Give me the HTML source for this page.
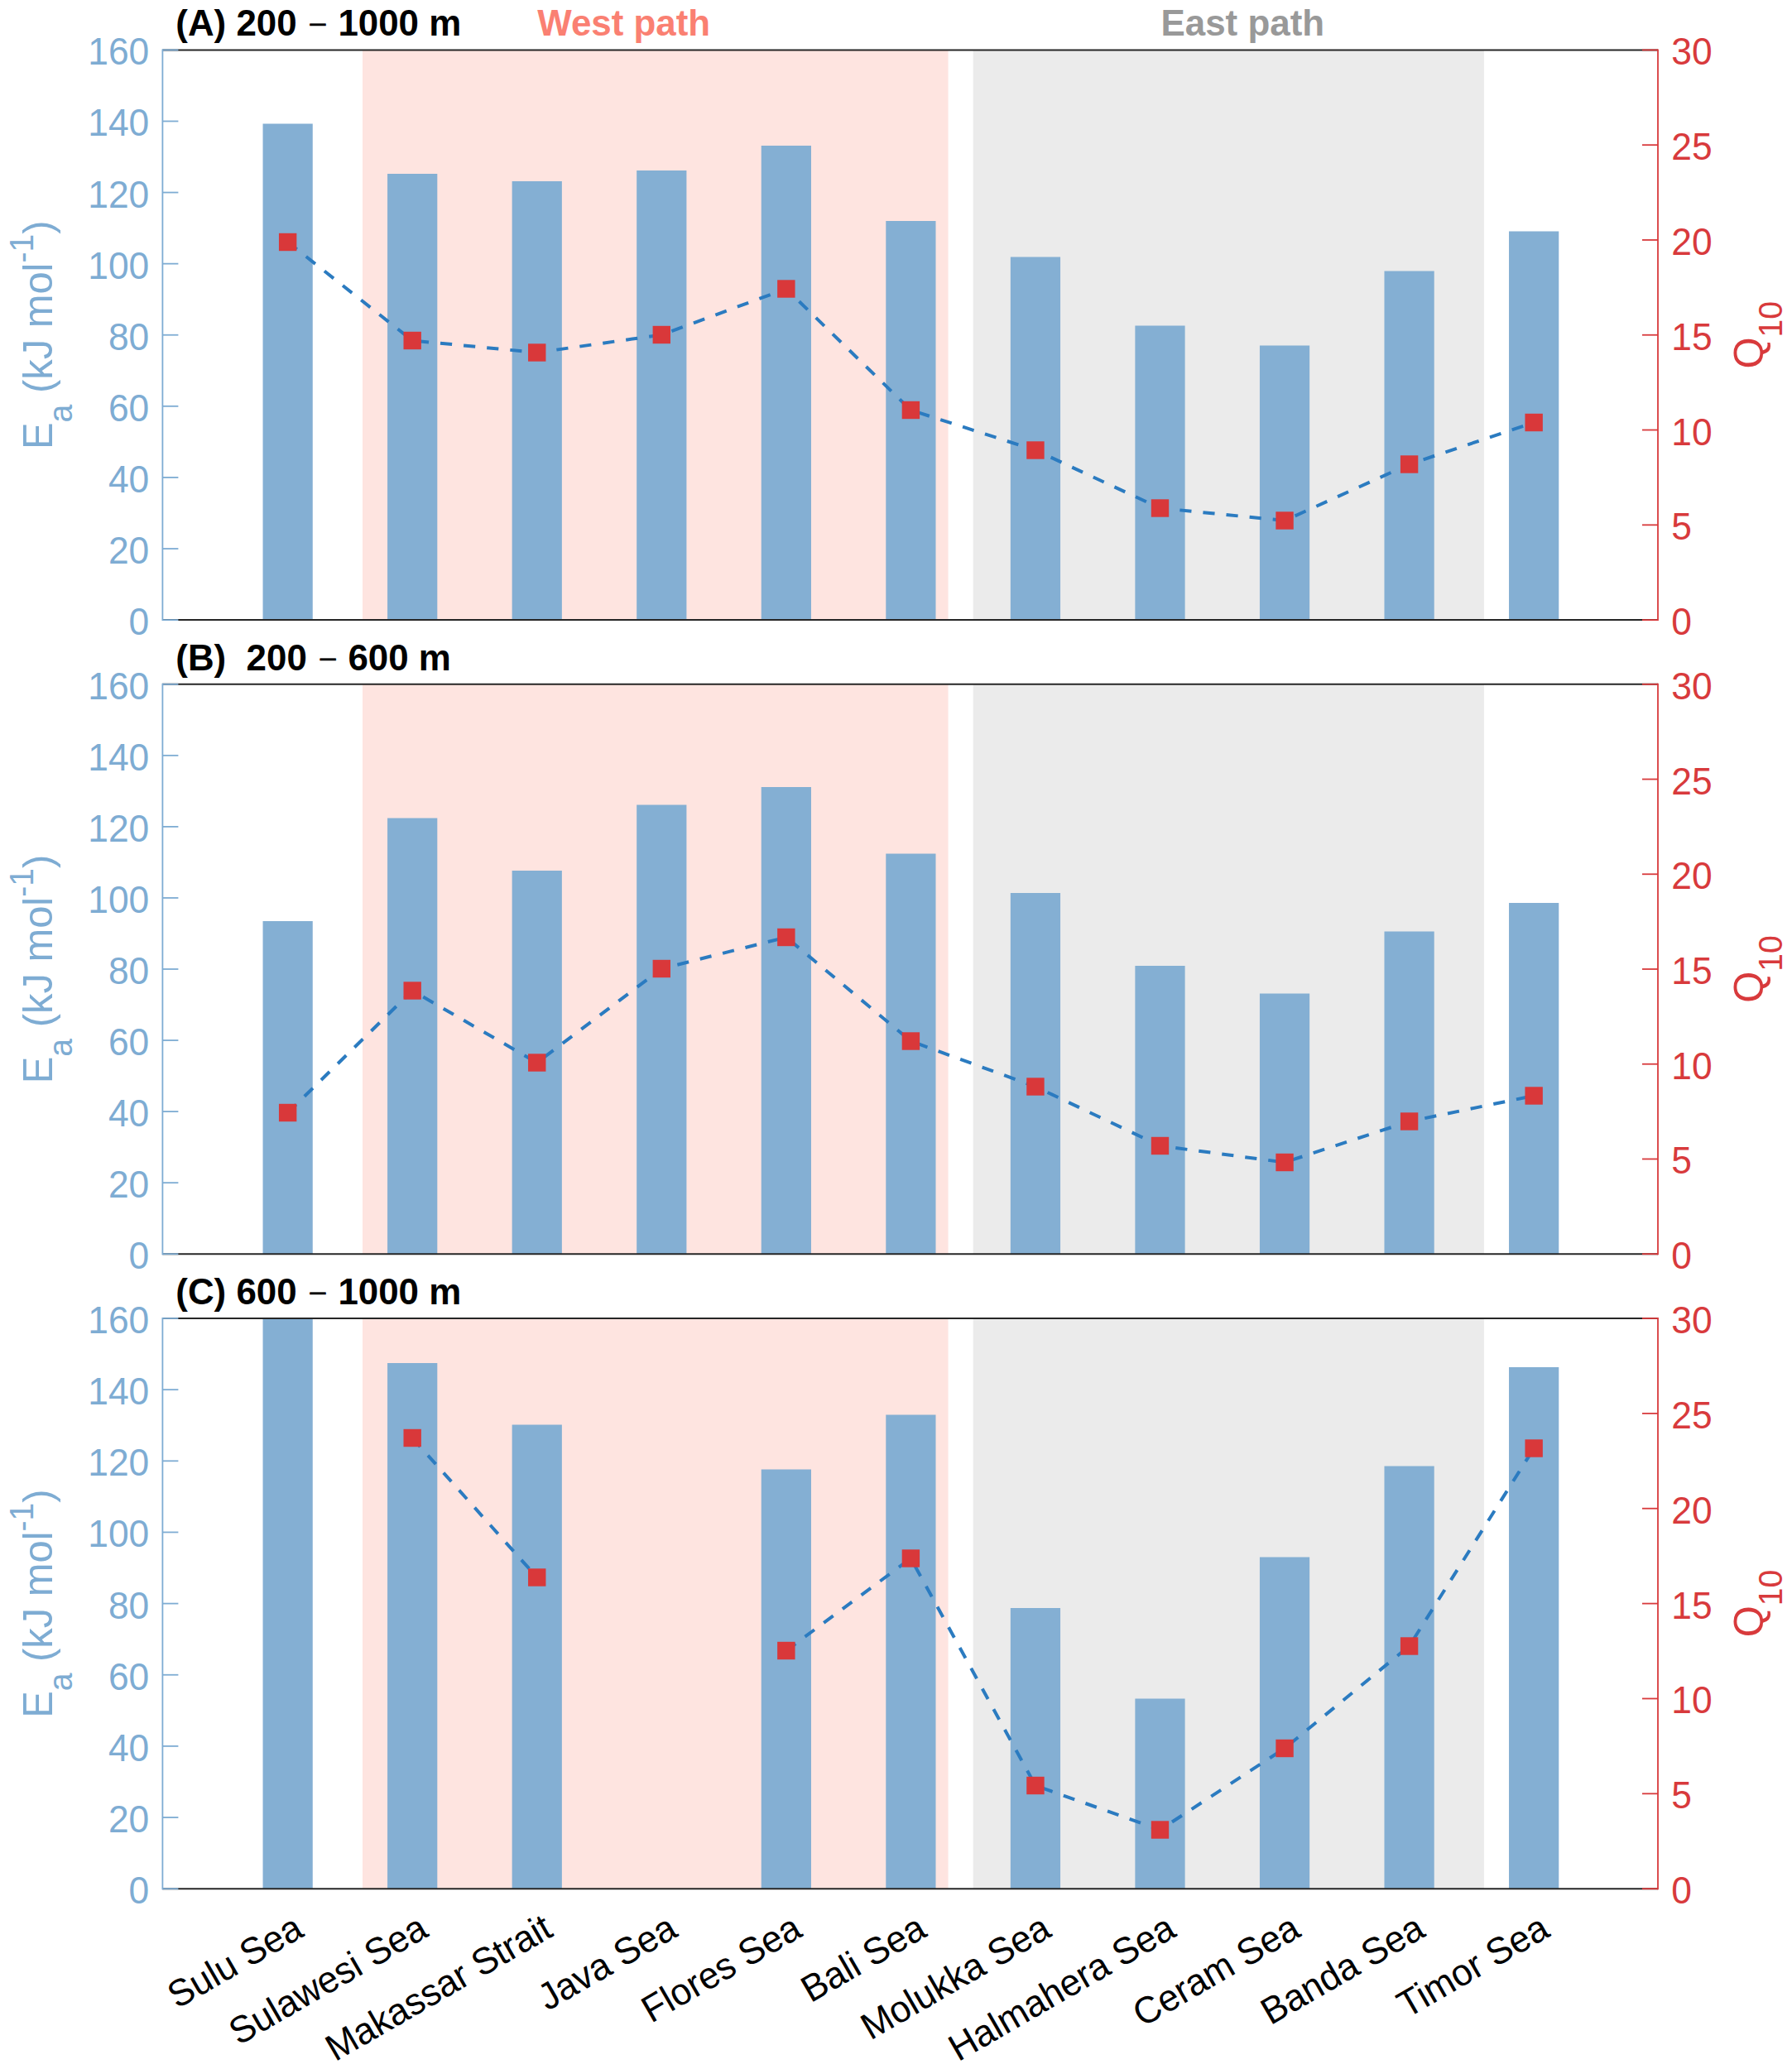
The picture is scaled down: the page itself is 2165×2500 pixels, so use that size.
<!DOCTYPE html>
<html lang="en"><head><meta charset="utf-8"><title>Ea and Q10 along the west and east paths</title>
<style>html,body{margin:0;padding:0;background:#fff}body{width:2165px;height:2500px;overflow:hidden}svg{display:block}text{font-family:"Liberation Sans",Arial,Helvetica,sans-serif}</style></head><body>
<svg width="2165" height="2500" viewBox="0 0 2165 2500">
<rect width="2165" height="2500" fill="#fff"/>
<g>
<rect x="437.98" y="60.4" width="707.58" height="688.7" fill="#fee4e0"/>
<rect x="1175.67" y="60.4" width="617.25" height="688.7" fill="#ebebeb"/>
<rect x="317.54" y="149.5" width="60.22" height="599.6" fill="#84afd3"/>
<rect x="468.09" y="210" width="60.22" height="539.1" fill="#84afd3"/>
<rect x="618.64" y="219" width="60.22" height="530.1" fill="#84afd3"/>
<rect x="769.19" y="206" width="60.22" height="543.1" fill="#84afd3"/>
<rect x="919.74" y="176" width="60.22" height="573.1" fill="#84afd3"/>
<rect x="1070.29" y="267" width="60.22" height="482.1" fill="#84afd3"/>
<rect x="1220.84" y="310.5" width="60.22" height="438.6" fill="#84afd3"/>
<rect x="1371.39" y="393.5" width="60.22" height="355.6" fill="#84afd3"/>
<rect x="1521.94" y="417.5" width="60.22" height="331.6" fill="#84afd3"/>
<rect x="1672.49" y="327.5" width="60.22" height="421.6" fill="#84afd3"/>
<rect x="1823.04" y="279.5" width="60.22" height="469.6" fill="#84afd3"/>
<polyline points="347.65,292.5 498.2,411.5 648.75,426 799.3,404.5 949.85,349 1100.4,495.5 1250.95,544 1401.5,614 1552.05,629 1702.6,561 1853.15,510.5" fill="none" stroke="#2b7bc0" stroke-width="4" stroke-dasharray="14.2 14.03"/>
<rect x="336.95" y="281.8" width="21.4" height="21.4" fill="#d9383a"/>
<rect x="487.5" y="400.8" width="21.4" height="21.4" fill="#d9383a"/>
<rect x="638.05" y="415.3" width="21.4" height="21.4" fill="#d9383a"/>
<rect x="788.6" y="393.8" width="21.4" height="21.4" fill="#d9383a"/>
<rect x="939.15" y="338.3" width="21.4" height="21.4" fill="#d9383a"/>
<rect x="1089.7" y="484.8" width="21.4" height="21.4" fill="#d9383a"/>
<rect x="1240.25" y="533.3" width="21.4" height="21.4" fill="#d9383a"/>
<rect x="1390.8" y="603.3" width="21.4" height="21.4" fill="#d9383a"/>
<rect x="1541.35" y="618.3" width="21.4" height="21.4" fill="#d9383a"/>
<rect x="1691.9" y="550.3" width="21.4" height="21.4" fill="#d9383a"/>
<rect x="1842.45" y="499.8" width="21.4" height="21.4" fill="#d9383a"/>
<line x1="196.4" y1="60.4" x2="2003" y2="60.4" stroke="#262626" stroke-width="2"/>
<line x1="196.4" y1="749.1" x2="2003" y2="749.1" stroke="#262626" stroke-width="2"/>
<line x1="196.4" y1="59.4" x2="196.4" y2="750.1" stroke="#7eacd3" stroke-width="1.8"/>
<line x1="196.4" y1="749.1" x2="215.4" y2="749.1" stroke="#7eacd3" stroke-width="1.8"/>
<text transform="translate(180.3 767.1) scale(1 1.03)" font-size="44.4" fill="#7eacd3" text-anchor="end">0</text>
<line x1="196.4" y1="663.01" x2="215.4" y2="663.01" stroke="#7eacd3" stroke-width="1.8"/>
<text transform="translate(180.3 681.01) scale(1 1.03)" font-size="44.4" fill="#7eacd3" text-anchor="end">20</text>
<line x1="196.4" y1="576.92" x2="215.4" y2="576.92" stroke="#7eacd3" stroke-width="1.8"/>
<text transform="translate(180.3 594.92) scale(1 1.03)" font-size="44.4" fill="#7eacd3" text-anchor="end">40</text>
<line x1="196.4" y1="490.84" x2="215.4" y2="490.84" stroke="#7eacd3" stroke-width="1.8"/>
<text transform="translate(180.3 508.84) scale(1 1.03)" font-size="44.4" fill="#7eacd3" text-anchor="end">60</text>
<line x1="196.4" y1="404.75" x2="215.4" y2="404.75" stroke="#7eacd3" stroke-width="1.8"/>
<text transform="translate(180.3 422.75) scale(1 1.03)" font-size="44.4" fill="#7eacd3" text-anchor="end">80</text>
<line x1="196.4" y1="318.66" x2="215.4" y2="318.66" stroke="#7eacd3" stroke-width="1.8"/>
<text transform="translate(180.3 336.66) scale(1 1.03)" font-size="44.4" fill="#7eacd3" text-anchor="end">100</text>
<line x1="196.4" y1="232.57" x2="215.4" y2="232.57" stroke="#7eacd3" stroke-width="1.8"/>
<text transform="translate(180.3 250.57) scale(1 1.03)" font-size="44.4" fill="#7eacd3" text-anchor="end">120</text>
<line x1="196.4" y1="146.49" x2="215.4" y2="146.49" stroke="#7eacd3" stroke-width="1.8"/>
<text transform="translate(180.3 164.49) scale(1 1.03)" font-size="44.4" fill="#7eacd3" text-anchor="end">140</text>
<line x1="196.4" y1="60.4" x2="215.4" y2="60.4" stroke="#7eacd3" stroke-width="1.8"/>
<text transform="translate(180.3 78.4) scale(1 1.03)" font-size="44.4" fill="#7eacd3" text-anchor="end">160</text>
<line x1="2003" y1="59.4" x2="2003" y2="750.1" stroke="#d83a3c" stroke-width="1.8"/>
<line x1="1984" y1="749.1" x2="2003" y2="749.1" stroke="#d83a3c" stroke-width="1.8"/>
<text transform="translate(2019.3 767.1) scale(1 1.03)" font-size="44.4" fill="#d83a3c">0</text>
<line x1="1984" y1="634.32" x2="2003" y2="634.32" stroke="#d83a3c" stroke-width="1.8"/>
<text transform="translate(2019.3 652.32) scale(1 1.03)" font-size="44.4" fill="#d83a3c">5</text>
<line x1="1984" y1="519.53" x2="2003" y2="519.53" stroke="#d83a3c" stroke-width="1.8"/>
<text transform="translate(2019.3 537.53) scale(1 1.03)" font-size="44.4" fill="#d83a3c">10</text>
<line x1="1984" y1="404.75" x2="2003" y2="404.75" stroke="#d83a3c" stroke-width="1.8"/>
<text transform="translate(2019.3 422.75) scale(1 1.03)" font-size="44.4" fill="#d83a3c">15</text>
<line x1="1984" y1="289.97" x2="2003" y2="289.97" stroke="#d83a3c" stroke-width="1.8"/>
<text transform="translate(2019.3 307.97) scale(1 1.03)" font-size="44.4" fill="#d83a3c">20</text>
<line x1="1984" y1="175.18" x2="2003" y2="175.18" stroke="#d83a3c" stroke-width="1.8"/>
<text transform="translate(2019.3 193.18) scale(1 1.03)" font-size="44.4" fill="#d83a3c">25</text>
<line x1="1984" y1="60.4" x2="2003" y2="60.4" stroke="#d83a3c" stroke-width="1.8"/>
<text transform="translate(2019.3 78.4) scale(1 1.03)" font-size="44.4" fill="#d83a3c">30</text>
<text transform="translate(62.8 404.75) rotate(-90) scale(1 1.03)" font-size="48.9" fill="#7eacd3" text-anchor="middle">E<tspan font-size="39.1" dy="23.4">a</tspan><tspan dy="-23.4"> (kJ mol</tspan><tspan font-size="39.1" dy="-22.4">-1</tspan><tspan dy="22.4">)</tspan></text>
<text transform="translate(2130 404.75) rotate(-90) scale(1 1.03)" font-size="48.9" fill="#d83a3c" text-anchor="middle">Q<tspan font-size="39.1" dy="22.7">10</tspan></text>
<text transform="translate(212.3 43.1) scale(1 1.03)" font-size="43.9" fill="#000" font-weight="bold">(A) 200</text>
<text x="383.9" y="38.2" font-size="34" fill="#000" stroke="#000" stroke-width="0.7" text-anchor="middle">–</text>
<text transform="translate(408.4 43.1) scale(1 1.03)" font-size="43.9" fill="#000" font-weight="bold">1000 m</text>
</g>
<g>
<rect x="437.98" y="826.8" width="707.58" height="688.4" fill="#fee4e0"/>
<rect x="1175.67" y="826.8" width="617.25" height="688.4" fill="#ebebeb"/>
<rect x="317.54" y="1113" width="60.22" height="402.2" fill="#84afd3"/>
<rect x="468.09" y="988.5" width="60.22" height="526.7" fill="#84afd3"/>
<rect x="618.64" y="1052" width="60.22" height="463.2" fill="#84afd3"/>
<rect x="769.19" y="972.5" width="60.22" height="542.7" fill="#84afd3"/>
<rect x="919.74" y="951" width="60.22" height="564.2" fill="#84afd3"/>
<rect x="1070.29" y="1031.5" width="60.22" height="483.7" fill="#84afd3"/>
<rect x="1220.84" y="1079" width="60.22" height="436.2" fill="#84afd3"/>
<rect x="1371.39" y="1167" width="60.22" height="348.2" fill="#84afd3"/>
<rect x="1521.94" y="1200.5" width="60.22" height="314.7" fill="#84afd3"/>
<rect x="1672.49" y="1125.5" width="60.22" height="389.7" fill="#84afd3"/>
<rect x="1823.04" y="1091" width="60.22" height="424.2" fill="#84afd3"/>
<polyline points="347.65,1344.5 498.2,1197 648.75,1284 799.3,1170.5 949.85,1132.5 1100.4,1258 1250.95,1313 1401.5,1384.5 1552.05,1404.5 1702.6,1355 1853.15,1324" fill="none" stroke="#2b7bc0" stroke-width="4" stroke-dasharray="14.2 14.03"/>
<rect x="336.95" y="1333.8" width="21.4" height="21.4" fill="#d9383a"/>
<rect x="487.5" y="1186.3" width="21.4" height="21.4" fill="#d9383a"/>
<rect x="638.05" y="1273.3" width="21.4" height="21.4" fill="#d9383a"/>
<rect x="788.6" y="1159.8" width="21.4" height="21.4" fill="#d9383a"/>
<rect x="939.15" y="1121.8" width="21.4" height="21.4" fill="#d9383a"/>
<rect x="1089.7" y="1247.3" width="21.4" height="21.4" fill="#d9383a"/>
<rect x="1240.25" y="1302.3" width="21.4" height="21.4" fill="#d9383a"/>
<rect x="1390.8" y="1373.8" width="21.4" height="21.4" fill="#d9383a"/>
<rect x="1541.35" y="1393.8" width="21.4" height="21.4" fill="#d9383a"/>
<rect x="1691.9" y="1344.3" width="21.4" height="21.4" fill="#d9383a"/>
<rect x="1842.45" y="1313.3" width="21.4" height="21.4" fill="#d9383a"/>
<line x1="196.4" y1="826.8" x2="2003" y2="826.8" stroke="#262626" stroke-width="2"/>
<line x1="196.4" y1="1515.2" x2="2003" y2="1515.2" stroke="#262626" stroke-width="2"/>
<line x1="196.4" y1="825.8" x2="196.4" y2="1516.2" stroke="#7eacd3" stroke-width="1.8"/>
<line x1="196.4" y1="1515.2" x2="215.4" y2="1515.2" stroke="#7eacd3" stroke-width="1.8"/>
<text transform="translate(180.3 1533.2) scale(1 1.03)" font-size="44.4" fill="#7eacd3" text-anchor="end">0</text>
<line x1="196.4" y1="1429.15" x2="215.4" y2="1429.15" stroke="#7eacd3" stroke-width="1.8"/>
<text transform="translate(180.3 1447.15) scale(1 1.03)" font-size="44.4" fill="#7eacd3" text-anchor="end">20</text>
<line x1="196.4" y1="1343.1" x2="215.4" y2="1343.1" stroke="#7eacd3" stroke-width="1.8"/>
<text transform="translate(180.3 1361.1) scale(1 1.03)" font-size="44.4" fill="#7eacd3" text-anchor="end">40</text>
<line x1="196.4" y1="1257.05" x2="215.4" y2="1257.05" stroke="#7eacd3" stroke-width="1.8"/>
<text transform="translate(180.3 1275.05) scale(1 1.03)" font-size="44.4" fill="#7eacd3" text-anchor="end">60</text>
<line x1="196.4" y1="1171" x2="215.4" y2="1171" stroke="#7eacd3" stroke-width="1.8"/>
<text transform="translate(180.3 1189) scale(1 1.03)" font-size="44.4" fill="#7eacd3" text-anchor="end">80</text>
<line x1="196.4" y1="1084.95" x2="215.4" y2="1084.95" stroke="#7eacd3" stroke-width="1.8"/>
<text transform="translate(180.3 1102.95) scale(1 1.03)" font-size="44.4" fill="#7eacd3" text-anchor="end">100</text>
<line x1="196.4" y1="998.9" x2="215.4" y2="998.9" stroke="#7eacd3" stroke-width="1.8"/>
<text transform="translate(180.3 1016.9) scale(1 1.03)" font-size="44.4" fill="#7eacd3" text-anchor="end">120</text>
<line x1="196.4" y1="912.85" x2="215.4" y2="912.85" stroke="#7eacd3" stroke-width="1.8"/>
<text transform="translate(180.3 930.85) scale(1 1.03)" font-size="44.4" fill="#7eacd3" text-anchor="end">140</text>
<line x1="196.4" y1="826.8" x2="215.4" y2="826.8" stroke="#7eacd3" stroke-width="1.8"/>
<text transform="translate(180.3 844.8) scale(1 1.03)" font-size="44.4" fill="#7eacd3" text-anchor="end">160</text>
<line x1="2003" y1="825.8" x2="2003" y2="1516.2" stroke="#d83a3c" stroke-width="1.8"/>
<line x1="1984" y1="1515.2" x2="2003" y2="1515.2" stroke="#d83a3c" stroke-width="1.8"/>
<text transform="translate(2019.3 1533.2) scale(1 1.03)" font-size="44.4" fill="#d83a3c">0</text>
<line x1="1984" y1="1400.47" x2="2003" y2="1400.47" stroke="#d83a3c" stroke-width="1.8"/>
<text transform="translate(2019.3 1418.47) scale(1 1.03)" font-size="44.4" fill="#d83a3c">5</text>
<line x1="1984" y1="1285.73" x2="2003" y2="1285.73" stroke="#d83a3c" stroke-width="1.8"/>
<text transform="translate(2019.3 1303.73) scale(1 1.03)" font-size="44.4" fill="#d83a3c">10</text>
<line x1="1984" y1="1171" x2="2003" y2="1171" stroke="#d83a3c" stroke-width="1.8"/>
<text transform="translate(2019.3 1189) scale(1 1.03)" font-size="44.4" fill="#d83a3c">15</text>
<line x1="1984" y1="1056.27" x2="2003" y2="1056.27" stroke="#d83a3c" stroke-width="1.8"/>
<text transform="translate(2019.3 1074.27) scale(1 1.03)" font-size="44.4" fill="#d83a3c">20</text>
<line x1="1984" y1="941.53" x2="2003" y2="941.53" stroke="#d83a3c" stroke-width="1.8"/>
<text transform="translate(2019.3 959.53) scale(1 1.03)" font-size="44.4" fill="#d83a3c">25</text>
<line x1="1984" y1="826.8" x2="2003" y2="826.8" stroke="#d83a3c" stroke-width="1.8"/>
<text transform="translate(2019.3 844.8) scale(1 1.03)" font-size="44.4" fill="#d83a3c">30</text>
<text transform="translate(62.8 1171) rotate(-90) scale(1 1.03)" font-size="48.9" fill="#7eacd3" text-anchor="middle">E<tspan font-size="39.1" dy="23.4">a</tspan><tspan dy="-23.4"> (kJ mol</tspan><tspan font-size="39.1" dy="-22.4">-1</tspan><tspan dy="22.4">)</tspan></text>
<text transform="translate(2130 1171) rotate(-90) scale(1 1.03)" font-size="48.9" fill="#d83a3c" text-anchor="middle">Q<tspan font-size="39.1" dy="22.7">10</tspan></text>
<text transform="translate(212.3 809.5) scale(1 1.03)" font-size="43.9" fill="#000" font-weight="bold">(B)  200</text>
<text x="396.2" y="804.6" font-size="34" fill="#000" stroke="#000" stroke-width="0.7" text-anchor="middle">–</text>
<text transform="translate(420.4 809.5) scale(1 1.03)" font-size="43.9" fill="#000" font-weight="bold">600 m</text>
</g>
<g>
<rect x="437.98" y="1593" width="707.58" height="689.2" fill="#fee4e0"/>
<rect x="1175.67" y="1593" width="617.25" height="689.2" fill="#ebebeb"/>
<rect x="317.54" y="1593" width="60.22" height="689.2" fill="#84afd3"/>
<rect x="468.09" y="1647" width="60.22" height="635.2" fill="#84afd3"/>
<rect x="618.64" y="1721.5" width="60.22" height="560.7" fill="#84afd3"/>
<rect x="919.74" y="1775.5" width="60.22" height="506.7" fill="#84afd3"/>
<rect x="1070.29" y="1709.5" width="60.22" height="572.7" fill="#84afd3"/>
<rect x="1220.84" y="1943" width="60.22" height="339.2" fill="#84afd3"/>
<rect x="1371.39" y="2052.5" width="60.22" height="229.7" fill="#84afd3"/>
<rect x="1521.94" y="1881.5" width="60.22" height="400.7" fill="#84afd3"/>
<rect x="1672.49" y="1771.5" width="60.22" height="510.7" fill="#84afd3"/>
<rect x="1823.04" y="1652" width="60.22" height="630.2" fill="#84afd3"/>
<polyline points="498.2,1737.5 648.75,1906" fill="none" stroke="#2b7bc0" stroke-width="4" stroke-dasharray="14.2 14.03"/>
<polyline points="949.85,1994.5 1100.4,1883 1250.95,2157.5 1401.5,2211 1552.05,2112.5 1702.6,1989 1853.15,1750" fill="none" stroke="#2b7bc0" stroke-width="4" stroke-dasharray="14.2 14.03"/>
<rect x="487.5" y="1726.8" width="21.4" height="21.4" fill="#d9383a"/>
<rect x="638.05" y="1895.3" width="21.4" height="21.4" fill="#d9383a"/>
<rect x="939.15" y="1983.8" width="21.4" height="21.4" fill="#d9383a"/>
<rect x="1089.7" y="1872.3" width="21.4" height="21.4" fill="#d9383a"/>
<rect x="1240.25" y="2146.8" width="21.4" height="21.4" fill="#d9383a"/>
<rect x="1390.8" y="2200.3" width="21.4" height="21.4" fill="#d9383a"/>
<rect x="1541.35" y="2101.8" width="21.4" height="21.4" fill="#d9383a"/>
<rect x="1691.9" y="1978.3" width="21.4" height="21.4" fill="#d9383a"/>
<rect x="1842.45" y="1739.3" width="21.4" height="21.4" fill="#d9383a"/>
<line x1="196.4" y1="1593" x2="2003" y2="1593" stroke="#262626" stroke-width="2"/>
<line x1="196.4" y1="2282.2" x2="2003" y2="2282.2" stroke="#262626" stroke-width="2"/>
<line x1="196.4" y1="1592" x2="196.4" y2="2283.2" stroke="#7eacd3" stroke-width="1.8"/>
<line x1="196.4" y1="2282.2" x2="215.4" y2="2282.2" stroke="#7eacd3" stroke-width="1.8"/>
<text transform="translate(180.3 2300.2) scale(1 1.03)" font-size="44.4" fill="#7eacd3" text-anchor="end">0</text>
<line x1="196.4" y1="2196.05" x2="215.4" y2="2196.05" stroke="#7eacd3" stroke-width="1.8"/>
<text transform="translate(180.3 2214.05) scale(1 1.03)" font-size="44.4" fill="#7eacd3" text-anchor="end">20</text>
<line x1="196.4" y1="2109.9" x2="215.4" y2="2109.9" stroke="#7eacd3" stroke-width="1.8"/>
<text transform="translate(180.3 2127.9) scale(1 1.03)" font-size="44.4" fill="#7eacd3" text-anchor="end">40</text>
<line x1="196.4" y1="2023.75" x2="215.4" y2="2023.75" stroke="#7eacd3" stroke-width="1.8"/>
<text transform="translate(180.3 2041.75) scale(1 1.03)" font-size="44.4" fill="#7eacd3" text-anchor="end">60</text>
<line x1="196.4" y1="1937.6" x2="215.4" y2="1937.6" stroke="#7eacd3" stroke-width="1.8"/>
<text transform="translate(180.3 1955.6) scale(1 1.03)" font-size="44.4" fill="#7eacd3" text-anchor="end">80</text>
<line x1="196.4" y1="1851.45" x2="215.4" y2="1851.45" stroke="#7eacd3" stroke-width="1.8"/>
<text transform="translate(180.3 1869.45) scale(1 1.03)" font-size="44.4" fill="#7eacd3" text-anchor="end">100</text>
<line x1="196.4" y1="1765.3" x2="215.4" y2="1765.3" stroke="#7eacd3" stroke-width="1.8"/>
<text transform="translate(180.3 1783.3) scale(1 1.03)" font-size="44.4" fill="#7eacd3" text-anchor="end">120</text>
<line x1="196.4" y1="1679.15" x2="215.4" y2="1679.15" stroke="#7eacd3" stroke-width="1.8"/>
<text transform="translate(180.3 1697.15) scale(1 1.03)" font-size="44.4" fill="#7eacd3" text-anchor="end">140</text>
<line x1="196.4" y1="1593" x2="215.4" y2="1593" stroke="#7eacd3" stroke-width="1.8"/>
<text transform="translate(180.3 1611) scale(1 1.03)" font-size="44.4" fill="#7eacd3" text-anchor="end">160</text>
<line x1="2003" y1="1592" x2="2003" y2="2283.2" stroke="#d83a3c" stroke-width="1.8"/>
<line x1="1984" y1="2282.2" x2="2003" y2="2282.2" stroke="#d83a3c" stroke-width="1.8"/>
<text transform="translate(2019.3 2300.2) scale(1 1.03)" font-size="44.4" fill="#d83a3c">0</text>
<line x1="1984" y1="2167.33" x2="2003" y2="2167.33" stroke="#d83a3c" stroke-width="1.8"/>
<text transform="translate(2019.3 2185.33) scale(1 1.03)" font-size="44.4" fill="#d83a3c">5</text>
<line x1="1984" y1="2052.47" x2="2003" y2="2052.47" stroke="#d83a3c" stroke-width="1.8"/>
<text transform="translate(2019.3 2070.47) scale(1 1.03)" font-size="44.4" fill="#d83a3c">10</text>
<line x1="1984" y1="1937.6" x2="2003" y2="1937.6" stroke="#d83a3c" stroke-width="1.8"/>
<text transform="translate(2019.3 1955.6) scale(1 1.03)" font-size="44.4" fill="#d83a3c">15</text>
<line x1="1984" y1="1822.73" x2="2003" y2="1822.73" stroke="#d83a3c" stroke-width="1.8"/>
<text transform="translate(2019.3 1840.73) scale(1 1.03)" font-size="44.4" fill="#d83a3c">20</text>
<line x1="1984" y1="1707.87" x2="2003" y2="1707.87" stroke="#d83a3c" stroke-width="1.8"/>
<text transform="translate(2019.3 1725.87) scale(1 1.03)" font-size="44.4" fill="#d83a3c">25</text>
<line x1="1984" y1="1593" x2="2003" y2="1593" stroke="#d83a3c" stroke-width="1.8"/>
<text transform="translate(2019.3 1611) scale(1 1.03)" font-size="44.4" fill="#d83a3c">30</text>
<text transform="translate(62.8 1937.6) rotate(-90) scale(1 1.03)" font-size="48.9" fill="#7eacd3" text-anchor="middle">E<tspan font-size="39.1" dy="23.4">a</tspan><tspan dy="-23.4"> (kJ mol</tspan><tspan font-size="39.1" dy="-22.4">-1</tspan><tspan dy="22.4">)</tspan></text>
<text transform="translate(2130 1937.6) rotate(-90) scale(1 1.03)" font-size="48.9" fill="#d83a3c" text-anchor="middle">Q<tspan font-size="39.1" dy="22.7">10</tspan></text>
<text transform="translate(212.3 1575.7) scale(1 1.03)" font-size="43.9" fill="#000" font-weight="bold">(C) 600</text>
<text x="383.9" y="1570.8" font-size="34" fill="#000" stroke="#000" stroke-width="0.7" text-anchor="middle">–</text>
<text transform="translate(408.4 1575.7) scale(1 1.03)" font-size="43.9" fill="#000" font-weight="bold">1000 m</text>
</g>
<text transform="translate(753.7 43.2) scale(1 1.03)" font-size="43.9" fill="#fa8072" text-anchor="middle" font-weight="bold">West path</text>
<text transform="translate(1501.3 43.2) scale(1 1.03)" font-size="43.9" fill="#999999" text-anchor="middle" font-weight="bold">East path</text>
<text transform="translate(369.05 2338.4) rotate(-30) scale(1 1.03)" font-size="44.1" fill="#000" text-anchor="end">Sulu Sea</text>
<text transform="translate(519.6 2338.4) rotate(-30) scale(1 1.03)" font-size="44.1" fill="#000" text-anchor="end">Sulawesi Sea</text>
<text transform="translate(670.15 2338.4) rotate(-30) scale(1 1.03)" font-size="44.1" fill="#000" text-anchor="end">Makassar Strait</text>
<text transform="translate(820.7 2338.4) rotate(-30) scale(1 1.03)" font-size="44.1" fill="#000" text-anchor="end">Java Sea</text>
<text transform="translate(971.25 2338.4) rotate(-30) scale(1 1.03)" font-size="44.1" fill="#000" text-anchor="end">Flores Sea</text>
<text transform="translate(1121.8 2338.4) rotate(-30) scale(1 1.03)" font-size="44.1" fill="#000" text-anchor="end">Bali Sea</text>
<text transform="translate(1272.35 2338.4) rotate(-30) scale(1 1.03)" font-size="44.1" fill="#000" text-anchor="end">Molukka Sea</text>
<text transform="translate(1422.9 2338.4) rotate(-30) scale(1 1.03)" font-size="44.1" fill="#000" text-anchor="end">Halmahera Sea</text>
<text transform="translate(1573.45 2338.4) rotate(-30) scale(1 1.03)" font-size="44.1" fill="#000" text-anchor="end">Ceram Sea</text>
<text transform="translate(1724 2338.4) rotate(-30) scale(1 1.03)" font-size="44.1" fill="#000" text-anchor="end">Banda Sea</text>
<text transform="translate(1874.55 2338.4) rotate(-30) scale(1 1.03)" font-size="44.1" fill="#000" text-anchor="end">Timor Sea</text>
</svg></body></html>
